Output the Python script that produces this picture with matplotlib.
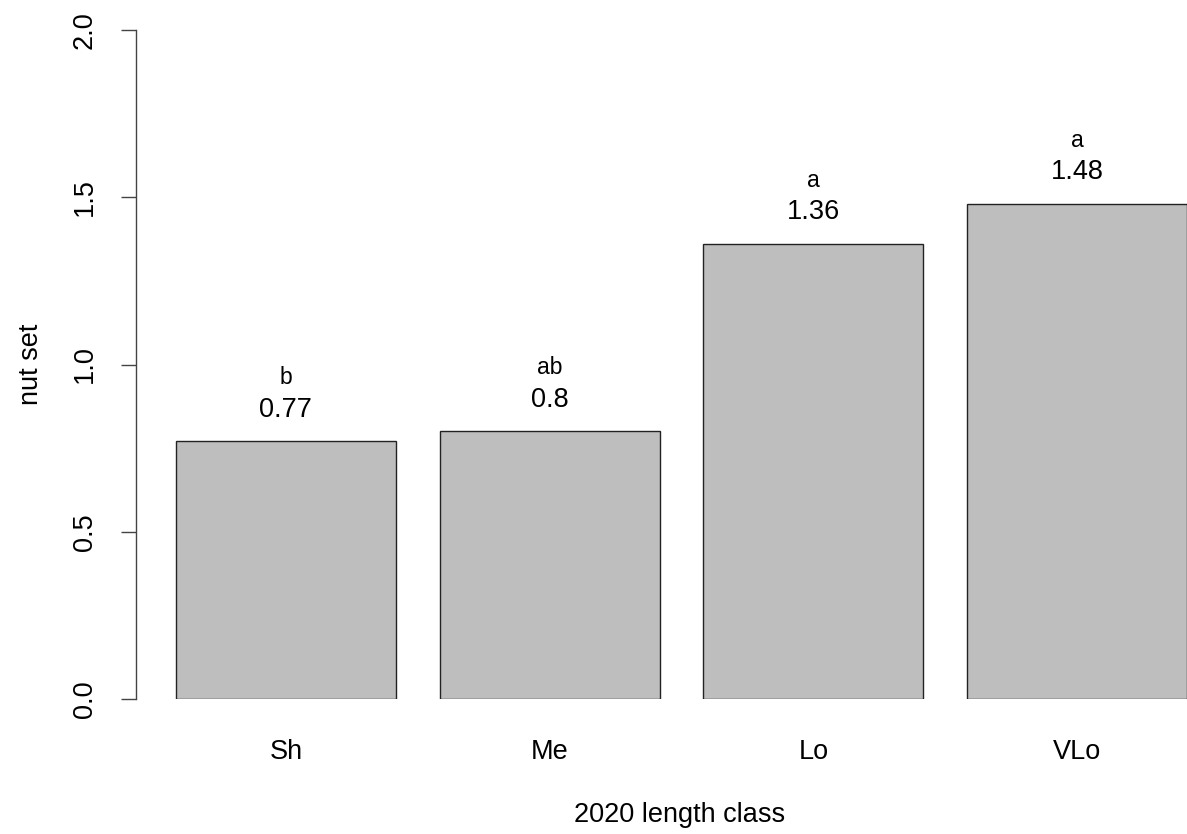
import matplotlib.pyplot as plt
import matplotlib.transforms as mtransforms

classes = ["Sh", "Me", "Lo", "VLo"]
nut_set = [0.77, 0.80, 1.36, 1.48]
value_labels = ["0.77", "0.8", "1.36", "1.48"]
letters = ["b", "ab", "a", "a"]
y_ticks = [0.0, 0.5, 1.0, 1.5, 2.0]
y_tick_labels = ["0.0", "0.5", "1.0", "1.5", "2.0"]

plt.rcParams['font.family'] = ['Liberation Sans', 'DejaVu Sans']

fig = plt.figure(figsize=(11.87, 8.34), dpi=100)
ax = fig.add_axes([132 / 1187, 1 - 699 / 834, 1 - 132 / 1187, (699 - 30) / 834])

# R-style barplot: width 1, space 0.2
centers = [0.7 + 1.2 * i for i in range(len(classes))]
ax.bar(centers, nut_set, width=1.0, color="#bebebe", edgecolor="#222222", linewidth=1.0)

for x, v, lab, let in zip(centers, nut_set, value_labels, letters):
    ax.text(x, v + 0.095, lab, ha="center", va="center", fontsize=19.5)
    ax.text(x, v + 0.19, let, ha="center", va="center", fontsize=16.5)

ax.set_xlim(0, 4.8)
ax.set_ylim(0, 2.0)
ax.set_yticks(y_ticks)
ax.set_yticklabels([])
ax.set_xticks(centers)
ax.set_xticklabels(classes)
ax.tick_params(axis="x", length=0, pad=29, labelsize=19.5)
ax.tick_params(axis="y", length=11, width=1.0, color="#444444")

# rotated y tick labels, R style
trans = mtransforms.offset_copy(ax.get_yaxis_transform(), fig=fig, x=-34, y=0, units="dots")
for y, lab in zip(y_ticks, y_tick_labels):
    ax.text(0, y, lab, transform=trans, rotation=90, ha="right", va="center",
            fontsize=19.5, clip_on=False)

for s in ["top", "right", "bottom"]:
    ax.spines[s].set_visible(False)
ax.spines["left"].set_color("#444444")
ax.spines["left"].set_linewidth(1.0)
ax.spines["left"].set_position(("outward", -3))

fig.text(680 / 1187, 1 - 815 / 834, "2020 length class", ha="center", va="center", fontsize=19.5)
fig.text(31 / 1187, 1 - 364 / 834, "nut set", ha="center", va="center", rotation=90, fontsize=19.5)

fig.savefig("out.png", dpi=100)
